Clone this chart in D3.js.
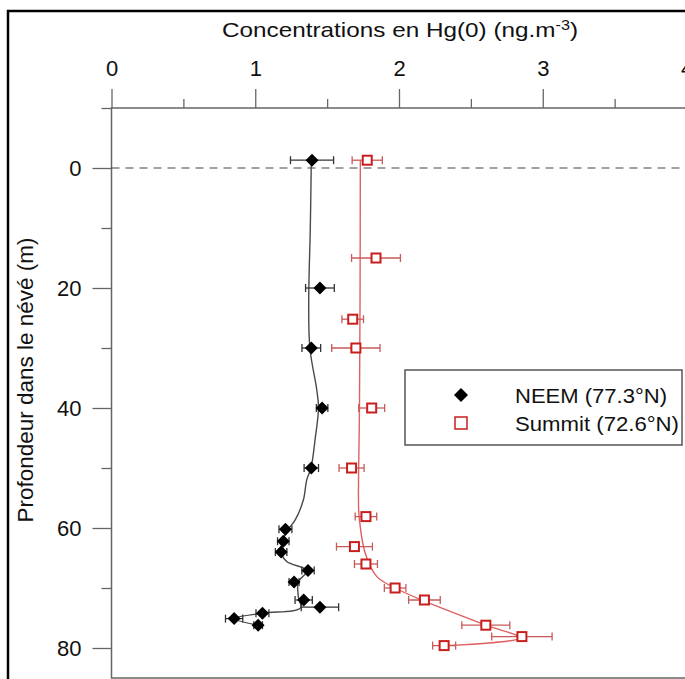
<!DOCTYPE html>
<html>
<head>
<meta charset="utf-8">
<script src="https://cdn.jsdelivr.net/npm/d3@7"></script>
<style>
	body { margin: 0; background: #fff; overflow: hidden; }
	text { font-family: "Liberation Sans", Arial, sans-serif; fill: #111; }
</style>
</head>
<body>
<div id="containerProfile"></div>
<script>

// NEEM firn air samples (depth in m, Hg(0) in ng.m-3, error)
var neemDepth = [-1.3, 20, 30, 40, 50, 60.2, 62.2, 64, 67.1, 69, 72, 73.2, 74.2, 75.1, 76.2];
var neemHg = [1.395, 1.45, 1.39, 1.465, 1.39, 1.21, 1.195, 1.18, 1.367, 1.27, 1.337, 1.45, 1.05, 0.853, 1.02];
var neemErr = [0.15, 0.1, 0.065, 0.04, 0.05, 0.045, 0.04, 0.04, 0.043, 0.035, 0.06, 0.13, 0.045, 0.06, 0.03];

// NEEM fitted curve
var neemFitDepth = [-1.3, 10, 22, 30, 37, 40, 45.3, 50, 52, 55.3, 58.7, 60.2, 62.2, 64, 65.6, 67.1, 69, 71.5, 73.3, 74.2, 75.1, 76.2];
var neemFitHg = [1.39, 1.383, 1.372, 1.38, 1.428, 1.44, 1.416, 1.388, 1.358, 1.335, 1.277, 1.23, 1.19, 1.18, 1.219, 1.36, 1.30, 1.30, 1.315, 1.05, 0.853, 1.02];

// Summit firn air samples
var summitDepth = [-1.3, 15, 25.2, 30, 40, 50, 58.1, 63.1, 66, 70, 72, 76.2, 78.1, 79.6];
var summitHg = [1.779, 1.84, 1.678, 1.70, 1.81, 1.67, 1.77, 1.69, 1.77, 1.973, 2.177, 2.604, 2.855, 2.314];
var summitErr = [0.105, 0.17, 0.075, 0.168, 0.09, 0.087, 0.075, 0.125, 0.08, 0.075, 0.11, 0.167, 0.21, 0.08];

// Summit fitted curve
var summitFitDepth = [-1.3, 22, 40, 55.3, 58, 64.2, 68.1, 70, 72.2, 76.2, 78.3, 79.6];
var summitFitHg = [1.731, 1.729, 1.725, 1.718, 1.722, 1.765, 1.846, 1.973, 2.178, 2.604, 2.84, 2.33];

// ticks
var xMajorTicks = [0, 1, 2, 3, 4];
var xMinorTicks = [0.5, 1.5, 2.5, 3.5];
var yMajorTicks = [0, 20, 40, 60, 80];
var yMinorTicks = [-10, 10, 30, 50, 70];

var legendLabels = ["NEEM (77.3°N)", "Summit (72.6°N)"];

// function to draw the depth profile
function drawProfile() {

	var width = 685;
	var height = 679;
	var neemColor = "#000";
	var neemLine = "#4a4a4a";
	var summitColor = "#c81e1e";
	var summitLine = "#e06060";
	var axisColor = "#666";

	var scaleX = d3.scaleLinear()
		.domain([0, 4])
		.range([111.5, 686.5]);

	var scaleY = d3.scaleLinear()
		.domain([-10, 85])
		.range([108, 678]);

	var svg = d3.select("#containerProfile")
		.append("svg")
		.attr("width", width)
		.attr("height", height);

	// outer frame
	svg.append("rect")
		.attr("x", 8)
		.attr("y", 11)
		.attr("width", 720)
		.attr("height", 720)
		.attr("fill", "none")
		.attr("stroke", "#000")
		.attr("stroke-width", 2.5);

	// plot frame
	svg.append("rect")
		.attr("x", scaleX(0))
		.attr("y", scaleY(-10))
		.attr("width", scaleX(4) + 30 - scaleX(0))
		.attr("height", scaleY(85) - scaleY(-10))
		.attr("fill", "none")
		.attr("stroke", axisColor)
		.attr("stroke-width", 1.5);

	// axes
	var xAxis = d3.axisTop(scaleX)
		.tickValues(xMajorTicks)
		.tickSize(19)
		.tickPadding(13)
		.tickFormat(d3.format("d"));
	var xAxisMinor = d3.axisTop(scaleX)
		.tickValues(xMinorTicks)
		.tickSize(9)
		.tickFormat("");
	var yAxis = d3.axisLeft(scaleY)
		.tickValues(yMajorTicks)
		.tickSize(19)
		.tickPadding(11)
		.tickFormat(d3.format("d"));
	var yAxisMinor = d3.axisLeft(scaleY)
		.tickValues(yMinorTicks)
		.tickSize(10)
		.tickFormat("");

	[[xAxis, "translate(0," + scaleY(-10) + ")"],
	 [xAxisMinor, "translate(0," + scaleY(-10) + ")"],
	 [yAxis, "translate(" + scaleX(0) + ",0)"],
	 [yAxisMinor, "translate(" + scaleX(0) + ",0)"]].forEach(function(a) {
		var g = svg.append("g")
			.attr("transform", a[1])
			.call(a[0]);
		g.select(".domain").remove();
		g.selectAll("line").attr("stroke", axisColor).attr("stroke-width", 1.3);
		g.selectAll("text")
			.style("font-family", "'Liberation Sans', Arial, sans-serif")
			.style("font-size", "22px")
			.attr("fill", "#111");
	});

	// dashed surface line
	svg.append("line")
		.attr("x1", scaleX(0))
		.attr("x2", width)
		.attr("y1", scaleY(0))
		.attr("y2", scaleY(0))
		.attr("stroke", "#444")
		.attr("stroke-width", 1.2)
		.attr("stroke-dasharray", "8,6");

	// fitted curves
	var line = d3.line()
		.x(function(d) { return scaleX(d[1]); })
		.y(function(d) { return scaleY(d[0]); })
		.curve(d3.curveCatmullRom.alpha(0.5));

	svg.append("path")
		.datum(d3.zip(neemFitDepth, neemFitHg))
		.attr("d", line)
		.attr("fill", "none")
		.attr("stroke", neemLine)
		.attr("stroke-width", 1.4);

	svg.append("path")
		.datum(d3.zip(summitFitDepth, summitFitHg))
		.attr("d", line)
		.attr("fill", "none")
		.attr("stroke", summitLine)
		.attr("stroke-width", 1.4);

	// error bars
	function drawErrors(depths, values, errors, color) {
		var g = svg.append("g")
			.attr("stroke", color)
			.attr("stroke-width", 1.3);
		var rows = d3.zip(depths, values, errors);
		g.selectAll(".bar")
			.data(rows)
			.enter()
			.append("line")
			.attr("x1", function(d) { return scaleX(d[1] - d[2]); })
			.attr("x2", function(d) { return scaleX(d[1] + d[2]); })
			.attr("y1", function(d) { return scaleY(d[0]); })
			.attr("y2", function(d) { return scaleY(d[0]); });
		[-1, 1].forEach(function(s) {
			g.selectAll(".cap" + s)
				.data(rows)
				.enter()
				.append("line")
				.attr("x1", function(d) { return scaleX(d[1] + s * d[2]); })
				.attr("x2", function(d) { return scaleX(d[1] + s * d[2]); })
				.attr("y1", function(d) { return scaleY(d[0]) - 4; })
				.attr("y2", function(d) { return scaleY(d[0]) + 4; });
		});
	}
	drawErrors(neemDepth, neemHg, neemErr, "#333");
	drawErrors(summitDepth, summitHg, summitErr, "#c85a5a");

	// markers
	var diamond = "M0,-6.5L6.5,0L0,6.5L-6.5,0Z";

	svg.selectAll(".neem")
		.data(d3.zip(neemDepth, neemHg))
		.enter()
		.append("path")
		.attr("d", diamond)
		.attr("transform", function(d) {
			return "translate(" + scaleX(d[1]) + "," + scaleY(d[0]) + ")";
		})
		.attr("fill", neemColor);

	svg.selectAll(".summit")
		.data(d3.zip(summitDepth, summitHg))
		.enter()
		.append("rect")
		.attr("x", function(d) { return scaleX(d[1]) - 4.5; })
		.attr("y", function(d) { return scaleY(d[0]) - 4.5; })
		.attr("width", 9)
		.attr("height", 9)
		.attr("fill", "#fff")
		.attr("stroke", summitColor)
		.attr("stroke-width", 2);

	// legend
	var legend = svg.append("g");
	legend.append("rect")
		.attr("x", 405)
		.attr("y", 370)
		.attr("width", 277)
		.attr("height", 75)
		.attr("fill", "#fff")
		.attr("stroke", "#555")
		.attr("stroke-width", 1.5);
	legend.append("path")
		.attr("d", "M0,-7L7,0L0,7L-7,0Z")
		.attr("transform", "translate(461,395)")
		.attr("fill", neemColor);
	legend.append("rect")
		.attr("x", 455)
		.attr("y", 417)
		.attr("width", 12)
		.attr("height", 12)
		.attr("fill", "#fff")
		.attr("stroke", summitColor)
		.attr("stroke-width", 1.5);
	legend.selectAll(".legendText")
		.data(legendLabels)
		.enter()
		.append("text")
		.attr("x", 515)
		.attr("y", function(d, i) { return 403 + i * 28; })
		.attr("textLength", function(d, i) { return i == 0 ? 152 : 164; })
		.attr("lengthAdjust", "spacingAndGlyphs")
		.style("font-size", "20px")
		.text(function(d) { return d; });

	// axis titles
	var title = svg.append("text")
		.attr("x", 222)
		.attr("y", 37)
		.attr("textLength", 356)
		.attr("lengthAdjust", "spacingAndGlyphs")
		.style("font-size", "21px");
	title.append("tspan").text("Concentrations en Hg(0) (ng.m");
	title.append("tspan").attr("dy", -7).style("font-size", "14px").text("-3");
	title.append("tspan").attr("dy", 7).text(")");

	svg.append("text")
		.attr("transform", "translate(33," + 380 + ") rotate(-90)")
		.style("text-anchor", "middle")
		.style("font-size", "22.5px")
		.text("Profondeur dans le névé (m)");
};

drawProfile();
</script>
</body>
</html>
